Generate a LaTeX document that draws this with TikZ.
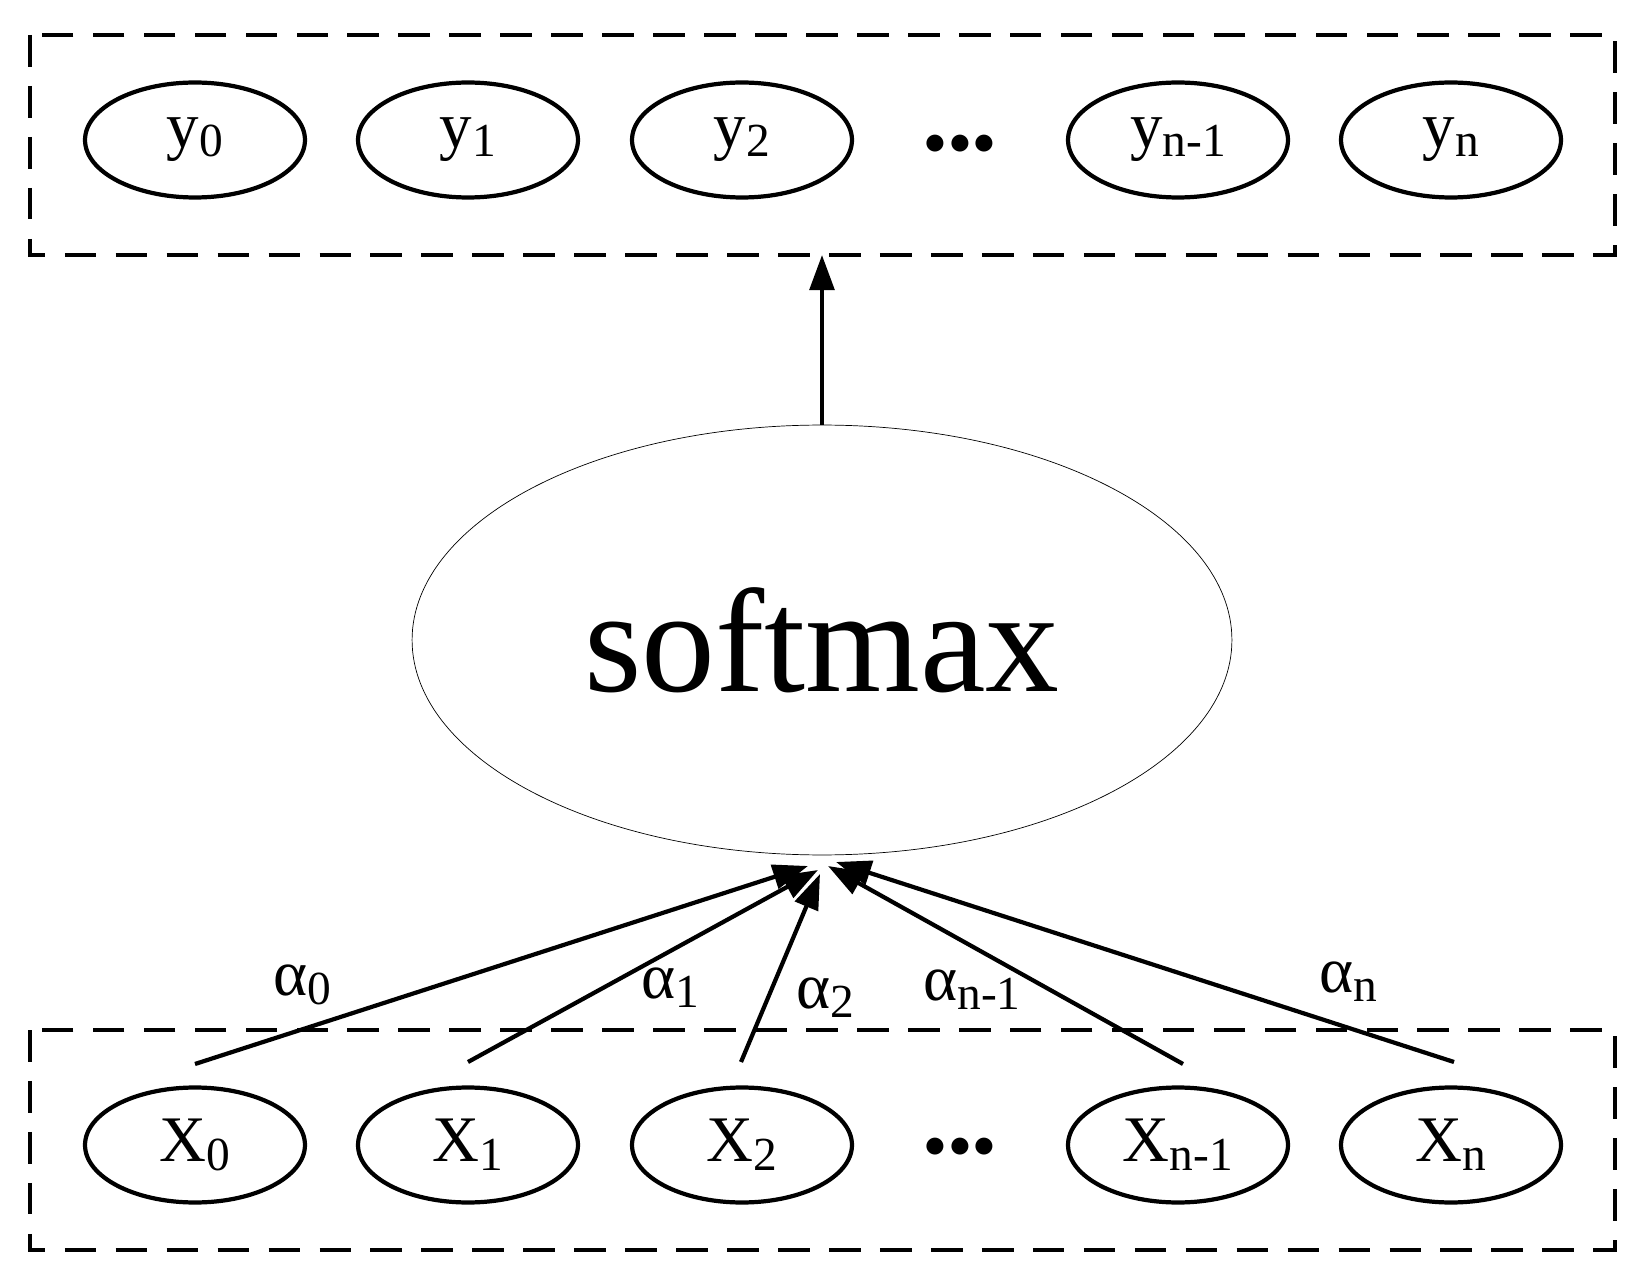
\documentclass[tikz,border=0pt]{standalone}
\usepackage{fontspec}
\setmainfont{Liberation Serif}
\usetikzlibrary{arrows.meta,shapes.geometric}
\newcommand{\sbs}[1]{\raisebox{-0.3ex}{\fontsize{27pt}{27pt}\selectfont #1}}
\begin{document}
\begin{tikzpicture}[x=0.02cm,y=-0.02cm,
 el/.style={draw,line width=2.4pt,ellipse,minimum width=4.4cm,minimum height=2.3cm,inner sep=0pt,font=\fontsize{37pt}{37pt}\selectfont},
 box/.style={draw,line width=2.4pt,dash pattern=on 18pt off 11pt},
 arr/.style={line width=2.4pt,-{Triangle[length=20pt,width=14pt]}},
 lab/.style={font=\fontsize{37pt}{37pt}\selectfont}]
\useasboundingbox (0,0) rectangle (1640,1283);
\draw[box] (30,35) rectangle (1615,255);
\draw[box] (30,1030) rectangle (1615,1250);
\foreach \n/\x/\s in {y0/195/0,y1/468/1,y2/742/2,y3/1178/n-1,y4/1451/n}{
  \node[el] (\n) at (\x,140) {y\sbs{\s}};}
\foreach \n/\x/\s in {x0/195/0,x1/468/1,x2/742/2,x3/1178/n-1,x4/1451/n}{
  \node[el] (\n) at (\x,1145) {X\sbs{\s}};}
\node[lab] (d1) at (960,145) {$\bullet\!\bullet\!\bullet$};
\node[lab] (d2) at (960,1148) {$\bullet\!\bullet\!\bullet$};
\node[draw,line width=0.4pt,ellipse,minimum width=16.4cm,minimum height=8.6cm,font=\fontsize{84pt}{84pt}\selectfont] (s) at (822,640) {softmax};
\coordinate (top) at (822,255);
\draw[arr] (s.north) -- (top);
\coordinate (e0) at (808,866);
\coordinate (e1) at (818,870);
\coordinate (e2) at (820,874);
\coordinate (e3) at (828,866);
\coordinate (e4) at (836,862);
\draw[arr] (195,1064) -- (e0);
\draw[arr] (468,1062) -- (e1);
\draw[arr] (741,1062) -- (e2);
\draw[arr] (1183,1064) -- (e3);
\draw[arr] (1454,1062) -- (e4);
\node[lab] (a0) at (302,985) {α\sbs{0}};
\node[lab] (a1) at (670,988) {α\sbs{1}};
\node[lab] (a2) at (825,998) {α\sbs{2}};
\node[lab] (a3) at (972,990) {α\sbs{n-1}};
\node[lab] (a4) at (1348,982) {α\sbs{n}};
\end{tikzpicture}
\end{document}
